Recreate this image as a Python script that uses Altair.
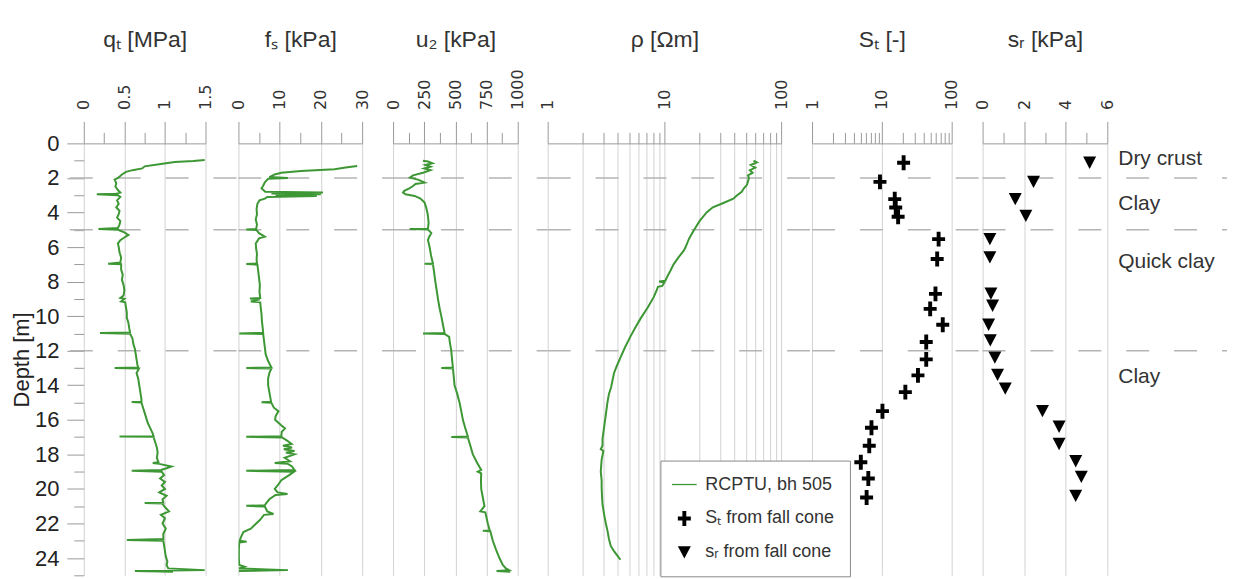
import altair as alt
import pandas as pd

# ---------------- data ----------------
qt_depth = [0.96, 1.02, 1.08, 1.2, 1.33, 1.45, 1.55, 1.65, 1.8, 1.97, 2.1, 2.3, 2.5, 2.7, 2.85, 2.92, 2.95, 3.0, 3.1, 3.3,
            3.5, 3.7, 3.9, 4.1, 4.3, 4.5, 4.7, 4.9, 4.96, 5.0, 5.15, 5.3, 5.45, 5.6, 5.8, 6.0, 6.3, 6.6, 6.9, 6.97,
            7.0, 7.3, 7.6, 7.9, 8.2, 8.5, 8.8, 8.95, 9.0, 9.15, 9.2, 9.5, 9.8, 10.1, 10.4, 10.7, 10.95, 10.98, 11.02, 11.3,
            11.6, 11.9, 12.2, 12.5, 12.8, 12.97, 13.0, 13.03, 13.3, 13.6, 13.9, 14.2, 14.5, 14.8, 14.95, 14.97, 15.0, 15.3, 15.6, 15.9,
            16.2, 16.5, 16.8, 16.95, 16.97, 17.0, 17.3, 17.6, 17.9, 18.2, 18.45, 18.5, 18.55, 18.7, 18.8, 18.9, 18.95, 19.0, 19.2, 19.4,
            19.6, 19.8, 20.0, 20.2, 20.4, 20.6, 20.8, 20.82, 20.85, 21.0, 21.3, 21.5, 21.7, 22.0, 22.3, 22.6, 22.9, 22.95, 23.0, 23.3,
            23.6, 23.9, 24.2, 24.4, 24.6, 24.7, 24.75, 24.8]
qt_val = [1.49, 1.35, 1.12, 0.95, 0.75, 0.72, 0.60, 0.52, 0.47, 0.43, 0.38, 0.40, 0.39, 0.42, 0.45, 0.40, 0.16, 0.42, 0.45, 0.41,
          0.43, 0.40, 0.44, 0.43, 0.41, 0.45, 0.44, 0.42, 0.18, 0.42, 0.50, 0.55, 0.50, 0.45, 0.42, 0.43, 0.44, 0.46, 0.45, 0.30,
          0.46, 0.46, 0.48, 0.47, 0.49, 0.50, 0.49, 0.45, 0.50, 0.46, 0.51, 0.52, 0.53, 0.53, 0.55, 0.56, 0.57, 0.20, 0.57, 0.60,
          0.61, 0.63, 0.64, 0.65, 0.66, 0.67, 0.38, 0.68, 0.65, 0.67, 0.68, 0.69, 0.70, 0.71, 0.71, 0.59, 0.71, 0.73, 0.75, 0.77,
          0.79, 0.82, 0.85, 0.86, 0.44, 0.86, 0.88, 0.90, 0.91, 0.90, 0.92, 0.85, 0.93, 1.08, 1.02, 0.95, 0.59, 0.96, 0.99, 0.94,
          1.00, 0.96, 1.00, 0.93, 1.02, 0.97, 0.98, 0.75, 0.97, 0.99, 1.05, 0.95, 1.00, 0.97, 1.01, 0.98, 0.98, 0.53, 0.98, 0.99,
          1.00, 1.01, 1.03, 1.02, 1.04, 1.49, 0.63, 1.10]

fs_depth = [1.31, 1.4, 1.5, 1.6, 1.7, 1.8, 1.95, 2.0, 2.05, 2.25, 2.45, 2.6, 2.8, 2.85, 2.9, 2.95, 3.0, 3.05, 3.1, 3.2,
            3.3, 3.5, 3.8, 4.1, 4.4, 4.7, 4.95, 4.98, 5.02, 5.2, 5.4, 5.5, 5.8, 6.1, 6.4, 6.7, 6.95, 6.98, 7.02, 7.4,
            7.8, 8.2, 8.6, 8.95, 8.98, 9.02, 9.15, 9.2, 9.5, 9.9, 10.3, 10.7, 10.97, 11.0, 11.03, 11.4, 11.8, 12.2, 12.6, 12.97,
            13.0, 13.03, 13.3, 13.6, 14.0, 14.4, 14.8, 14.95, 14.98, 15.02, 15.3, 15.5, 15.8, 16.0, 16.3, 16.5, 16.7, 16.95, 16.98, 17.02,
            17.2, 17.4, 17.5, 17.6, 17.7, 17.8, 17.9, 18.0, 18.2, 18.4, 18.5, 18.55, 18.7, 18.9, 18.95, 19.0, 19.2, 19.5, 19.8, 20.0,
            20.2, 20.3, 20.35, 20.6, 20.8, 20.95, 20.98, 21.02, 21.3, 21.45, 21.5, 21.8, 22.0, 22.3, 22.5, 22.8, 23.0, 23.05, 23.1, 23.5,
            24.0, 24.4, 24.5, 24.6, 24.7, 24.75]
fs_val = [28.8, 26.0, 23.3, 15.2, 10.4, 8.8, 7.5, 12.0, 7.2, 6.4, 6.0, 5.6, 6.5, 20.5, 8.0, 20.0, 9.0, 19.0, 7.0, 6.4,
          5.1, 4.6, 4.4, 4.5, 4.2, 4.5, 4.3, 1.9, 4.4, 5.0, 6.4, 5.0, 4.2, 4.3, 4.5, 4.4, 4.5, 1.9, 4.6, 4.8,
          5.0, 5.2, 5.1, 5.3, 2.8, 5.2, 3.0, 5.3, 5.4, 5.6, 5.7, 5.9, 6.0, 0.2, 6.0, 6.2, 6.4, 6.6, 7.2, 8.0,
          1.9, 8.0, 7.5, 7.2, 7.2, 7.5, 7.8, 7.9, 5.6, 8.0, 8.6, 9.7, 9.0, 8.9, 10.3, 11.3, 10.5, 10.4, 1.9, 10.6,
          11.8, 12.9, 10.8, 13.0, 11.0, 13.6, 11.5, 13.6, 11.2, 12.5, 8.8, 12.0, 13.0, 13.6, 1.9, 13.5, 12.3, 10.4, 9.5, 8.8,
          9.5, 11.9, 9.0, 7.5, 6.8, 6.4, 1.9, 6.4, 7.0, 8.5, 6.2, 5.2, 4.3, 3.0, 1.2, 0.6, 0.3, 2.0, 0.2, 0.1,
          0.1, 0.2, 1.5, 0.1, 12.0, 0.1]

u2_depth = [1.0, 1.05, 1.15, 1.25, 1.35, 1.45, 1.55, 1.7, 1.85, 1.98, 2.1, 2.27, 2.35, 2.47, 2.6, 2.75, 2.85, 2.95, 3.04, 3.2,
            3.43, 3.7, 4.0, 4.2, 4.6, 4.94, 4.96, 4.98, 5.2, 5.4, 5.6, 6.0, 6.5, 6.95, 6.97, 7.0, 7.5, 8.0, 8.5, 9.0,
            9.5, 10.0, 10.5, 10.97, 11.0, 11.03, 11.2, 11.5, 12.0, 12.5, 12.97, 13.0, 13.03, 13.5, 14.0, 14.5, 15.0, 15.5, 16.0, 16.5,
            16.97, 17.0, 17.03, 17.5, 18.0, 18.5, 18.9, 19.0, 19.1, 19.5, 20.0, 20.5, 21.0, 21.3, 21.35, 22.0, 22.4, 22.42, 22.45, 23.0,
            23.5, 24.0, 24.4, 24.6, 24.7, 24.75, 24.8]
u2_val = [240, 280, 315, 260, 300, 250, 300, 240, 160, 135, 200, 253, 180, 160, 130, 90, 80, 100, 173, 220,
          253, 265, 275, 280, 285, 280, 133, 280, 307, 290, 280, 293, 305, 320, 253, 320, 330, 339, 350, 360,
          372, 387, 400, 413, 240, 413, 450, 455, 467, 473, 480, 387, 480, 487, 493, 515, 533, 547, 560, 580,
          600, 467, 600, 620, 640, 675, 707, 680, 707, 705, 707, 720, 733, 700, 740, 760, 775, 720, 780, 800,
          825, 853, 880, 905, 930, 830, 940]

rho_depth = [1.0, 1.1, 1.25, 1.4, 1.55, 1.7, 1.85, 2.0, 2.2, 2.4, 2.6, 2.8, 3.0, 3.2, 3.45, 3.7, 4.0, 4.5, 5.0, 5.5,
             6.0, 6.2, 6.6, 7.0, 7.4, 7.7, 7.95, 8.0, 8.05, 8.25, 8.3, 8.5, 8.9, 9.5, 10.1, 10.6, 11.2, 11.8, 12.4, 12.9,
             13.3, 13.7, 14.1, 14.5, 15.0, 15.7, 16.4, 17.1, 17.5, 17.7, 17.8, 18.3, 19.0, 19.5, 19.9, 20.4, 20.9, 21.5, 22.0, 22.4,
             22.9, 23.3, 23.6, 23.9, 24.1]
rho_val = [58, 62, 55, 60, 54, 57, 52, 53, 52, 51, 48, 46, 42, 39, 32, 26, 23, 20, 18, 16.3,
           15.2, 14.7, 13.2, 12.0, 11.2, 10.6, 10.2, 9.0, 10.0, 9.6, 8.8, 8.6, 8.1, 7.2, 6.3, 5.7, 5.1, 4.6, 4.2, 3.9,
           3.7, 3.6, 3.5, 3.35, 3.25, 3.15, 3.05, 2.95, 2.95, 2.85, 3.0, 2.9, 2.85, 2.9, 2.9, 2.92, 2.95, 3.05, 3.15, 3.25,
           3.35, 3.47, 3.7, 4.0, 4.2]

st_depth = [1.12, 2.23, 3.23, 3.71, 4.25, 5.54, 6.69, 8.71, 9.58, 10.5, 11.5, 12.5, 13.43, 14.4, 15.5, 16.46, 17.5, 18.46, 19.4, 20.5]
st_val = [20.5, 9.4, 15.3, 15.8, 17.1, 65, 62, 58.6, 49.2, 74.5, 43.2, 43.2, 32.9, 21.7, 10.2, 7.1, 6.6, 5.0, 6.4, 6.05]

sr_depth = [1.12, 2.23, 3.23, 4.2, 5.54, 6.6, 8.7, 9.4, 10.5, 11.4, 12.4, 13.4, 14.2, 15.5, 16.4, 17.4, 18.4, 19.3, 20.4]
sr_val = [5.15, 2.45, 1.57, 2.08, 0.35, 0.35, 0.40, 0.48, 0.29, 0.37, 0.59, 0.72, 1.09, 2.88, 3.68, 3.68, 4.48, 4.75, 4.48]

layer_names = ["Dry crust", "Clay", "Quick clay", "Clay"]
layer_depths = [0.92, 3.52, 6.87, 13.5]
boundary_depths = [2, 5, 12]

legend_labels = ["RCPTU, bh 505", "S\u209c from fall cone", "s\u1d63 from fall cone"]

depth_major = list(range(0, 25, 2))
depth_minor = list(range(1, 26, 2))

# ---------------- styling ----------------
GREEN = "#3d9734"
GRID = "#d2d2d2"
AXC = "#9a9a9a"
TXT = "#333333"
FONT = "Liberation Sans, Arial, sans-serif"
TICKFONT = "DejaVu Sans"

LINE_PATH = "M-1.9,-0.1H1.9V0.1H-1.9Z"
PLUS_PATH = "M-1,-0.3H-0.3V-1.15H0.3V-0.3H1V0.3H0.3V1.15H-0.3V0.3H-1Z"
TRI_PATH = "M-1,-0.95L1,-0.95L0,0.95Z"

Y = alt.Scale(domain=[0, 25], reverse=True, nice=False, zero=False)

color_scale = alt.Scale(domain=legend_labels, range=[GREEN, "#000000", "#000000"])
shape_scale = alt.Scale(domain=legend_labels, range=[LINE_PATH, PLUS_PATH, TRI_PATH])
legend = alt.Legend(title=None, orient="none", legendX=578, legendY=318, fillColor="white",
                    strokeColor="#8a8a8a", padding=15, rowPadding=16, labelFont=FONT, labelFontSize=18,
                    labelColor=TXT, symbolSize=169, labelOffset=12, symbolStrokeWidth=0, labelLimit=400,
                    symbolOpacity=1)


def major_axis(title, values, grid=True):
    return alt.Axis(orient="top", title=title, values=values, labelExpr="'' + datum.value", labelAngle=-90,
                    labelFont=TICKFONT, labelFontSize=16, labelColor=TXT, labelPadding=12,
                    labelFlush=False, labelOverlap=False, labelBound=False,
                    tickSize=22, tickColor=AXC, domainColor=AXC, grid=grid, gridColor=GRID,
                    titleFont=FONT, titleFontSize=23, titleFontWeight="normal", titleColor=TXT,
                    titlePadding=16, minExtent=76, maxExtent=76)


def minor_axis(values, grid=False):
    return alt.Axis(orient="top", title=None, values=values, labels=False, tickSize=11,
                    tickColor=AXC, domain=False, grid=grid, gridColor=GRID)


def panel(width, xrange, domain, stype, title, major, minor, main, grid_major=True, grid_minor=False,
          first=False, extra=None):
    xs = alt.Scale(domain=domain, range=[0, xrange], type=stype, nice=False, zero=False)
    bdf = pd.DataFrame({"depth": boundary_depths})
    rules = alt.Chart(bdf).mark_rule(color="#b4b4b4", strokeDash=[23, 25], strokeWidth=1.5).encode(
        y=alt.Y("depth:Q", scale=Y, axis=None),
        x=alt.value(-14 if first else 0),
        x2=alt.value(width),
    )
    mdf = pd.DataFrame({"v": minor})
    mlayer = alt.Chart(mdf).mark_point(opacity=0).encode(
        x=alt.X("v:Q", scale=xs, axis=minor_axis(minor, grid_minor)))
    mk, df = main
    if mk == "line":
        data_layer = alt.Chart(df).mark_line(color=GREEN, strokeWidth=2, clip=True).encode(
            x=alt.X("v:Q", scale=xs, axis=major_axis(title, major, grid_major)),
            y=alt.Y("depth:Q", scale=Y, axis=(alt.Axis(orient="left", values=depth_major, title="Depth [m]",
                                                        tickSize=17, tickColor=AXC, domain=False, grid=False,
                                                        labelFont=FONT, labelFontSize=22, labelColor="#222222",
                                                        labelPadding=8, titleFont=FONT, titleFontSize=22,
                                                        titleFontWeight="normal", titleColor="#222222",
                                                        titlePadding=6, minExtent=44, maxExtent=44)
                                              if first else None)),
            order="i:Q",
        )
    else:
        data_layer = alt.Chart(df).mark_point(filled=True, size=169, opacity=1, strokeWidth=0).encode(
            x=alt.X("v:Q", scale=xs, axis=major_axis(title, major, grid_major)),
            y=alt.Y("depth:Q", scale=Y, axis=None),
            color=alt.Color("series:N", scale=color_scale, legend=legend),
            shape=alt.Shape("series:N", scale=shape_scale, legend=legend),
        )
    layers = [rules, mlayer, data_layer]
    if first:
        ydf = pd.DataFrame({"depth": depth_minor})
        layers.append(alt.Chart(ydf).mark_point(opacity=0).encode(
            y=alt.Y("depth:Q", scale=Y, axis=alt.Axis(orient="left", values=depth_minor, labels=False,
                                                       tickSize=10, tickColor=AXC, domain=False, grid=False,
                                                       title=None))))
    if extra is not None:
        layers.append(extra)
    return alt.layer(*layers).resolve_axis(x="independent", y="independent").properties(width=width, height=433)


def prof(d, v):
    return pd.DataFrame({"depth": d, "v": v, "i": list(range(len(d)))})


qt_df = prof(qt_depth, qt_val)
fs_df = prof(fs_depth, fs_val)
u2_df = prof(u2_depth, u2_val)
rho_df = prof(rho_depth, rho_val)
st_df = pd.DataFrame({"depth": st_depth, "v": st_val, "series": legend_labels[1]})
sr_df = pd.DataFrame({"depth": sr_depth, "v": sr_val, "series": legend_labels[2]})

logminor = [2, 3, 4, 5, 6, 7, 8, 9, 20, 30, 40, 50, 60, 70, 80, 90]

labels_layer = alt.Chart(pd.DataFrame({"depth": layer_depths, "label": layer_names})).mark_text(
    align="left", baseline="middle", font=FONT, fontSize=21, color=TXT).encode(
    y=alt.Y("depth:Q", scale=Y, axis=None), x=alt.value(136), text="label:N")

p1 = panel(155, 122, [0, 1.5], "linear", "q\u209c [MPa]", [0, 0.5, 1, 1.5], [0.25, 0.75, 1.25], ("line", qt_df), first=True)
p2 = panel(155, 124, [0, 30], "linear", "f\u209b [kPa]", [0, 10, 20, 30], [5, 15, 25], ("line", fs_df))
p3 = panel(155, 125, [0, 1000], "linear", "u\u2082 [kPa]", [0, 250, 500, 750, 1000], [125, 375, 625, 875], ("line", u2_df))
p4 = panel(265, 234, [1, 100], "log", "\u03c1 [\u03a9m]", [1, 10, 100], logminor, ("line", rho_df), grid_minor=True)
p5 = panel(171, 140, [1, 100], "log", "S\u209c [-]", [1, 10, 100], logminor, ("point", st_df))
p6 = panel(245, 125, [0, 6], "linear", "s\u1d63 [kPa]", [0, 2, 4, 6], [1, 3, 5], ("point", sr_df), extra=labels_layer)

chart = alt.hconcat(p1, p2, p3, p4, p5, p6, spacing=0, bounds="flush").resolve_scale(
    color="shared", shape="shared").configure_view(stroke=None).properties(
    padding={"left": 3, "top": 20, "right": 0, "bottom": 0})

chart.save("out.html", embed_options={"renderer": "svg", "actions": False})
